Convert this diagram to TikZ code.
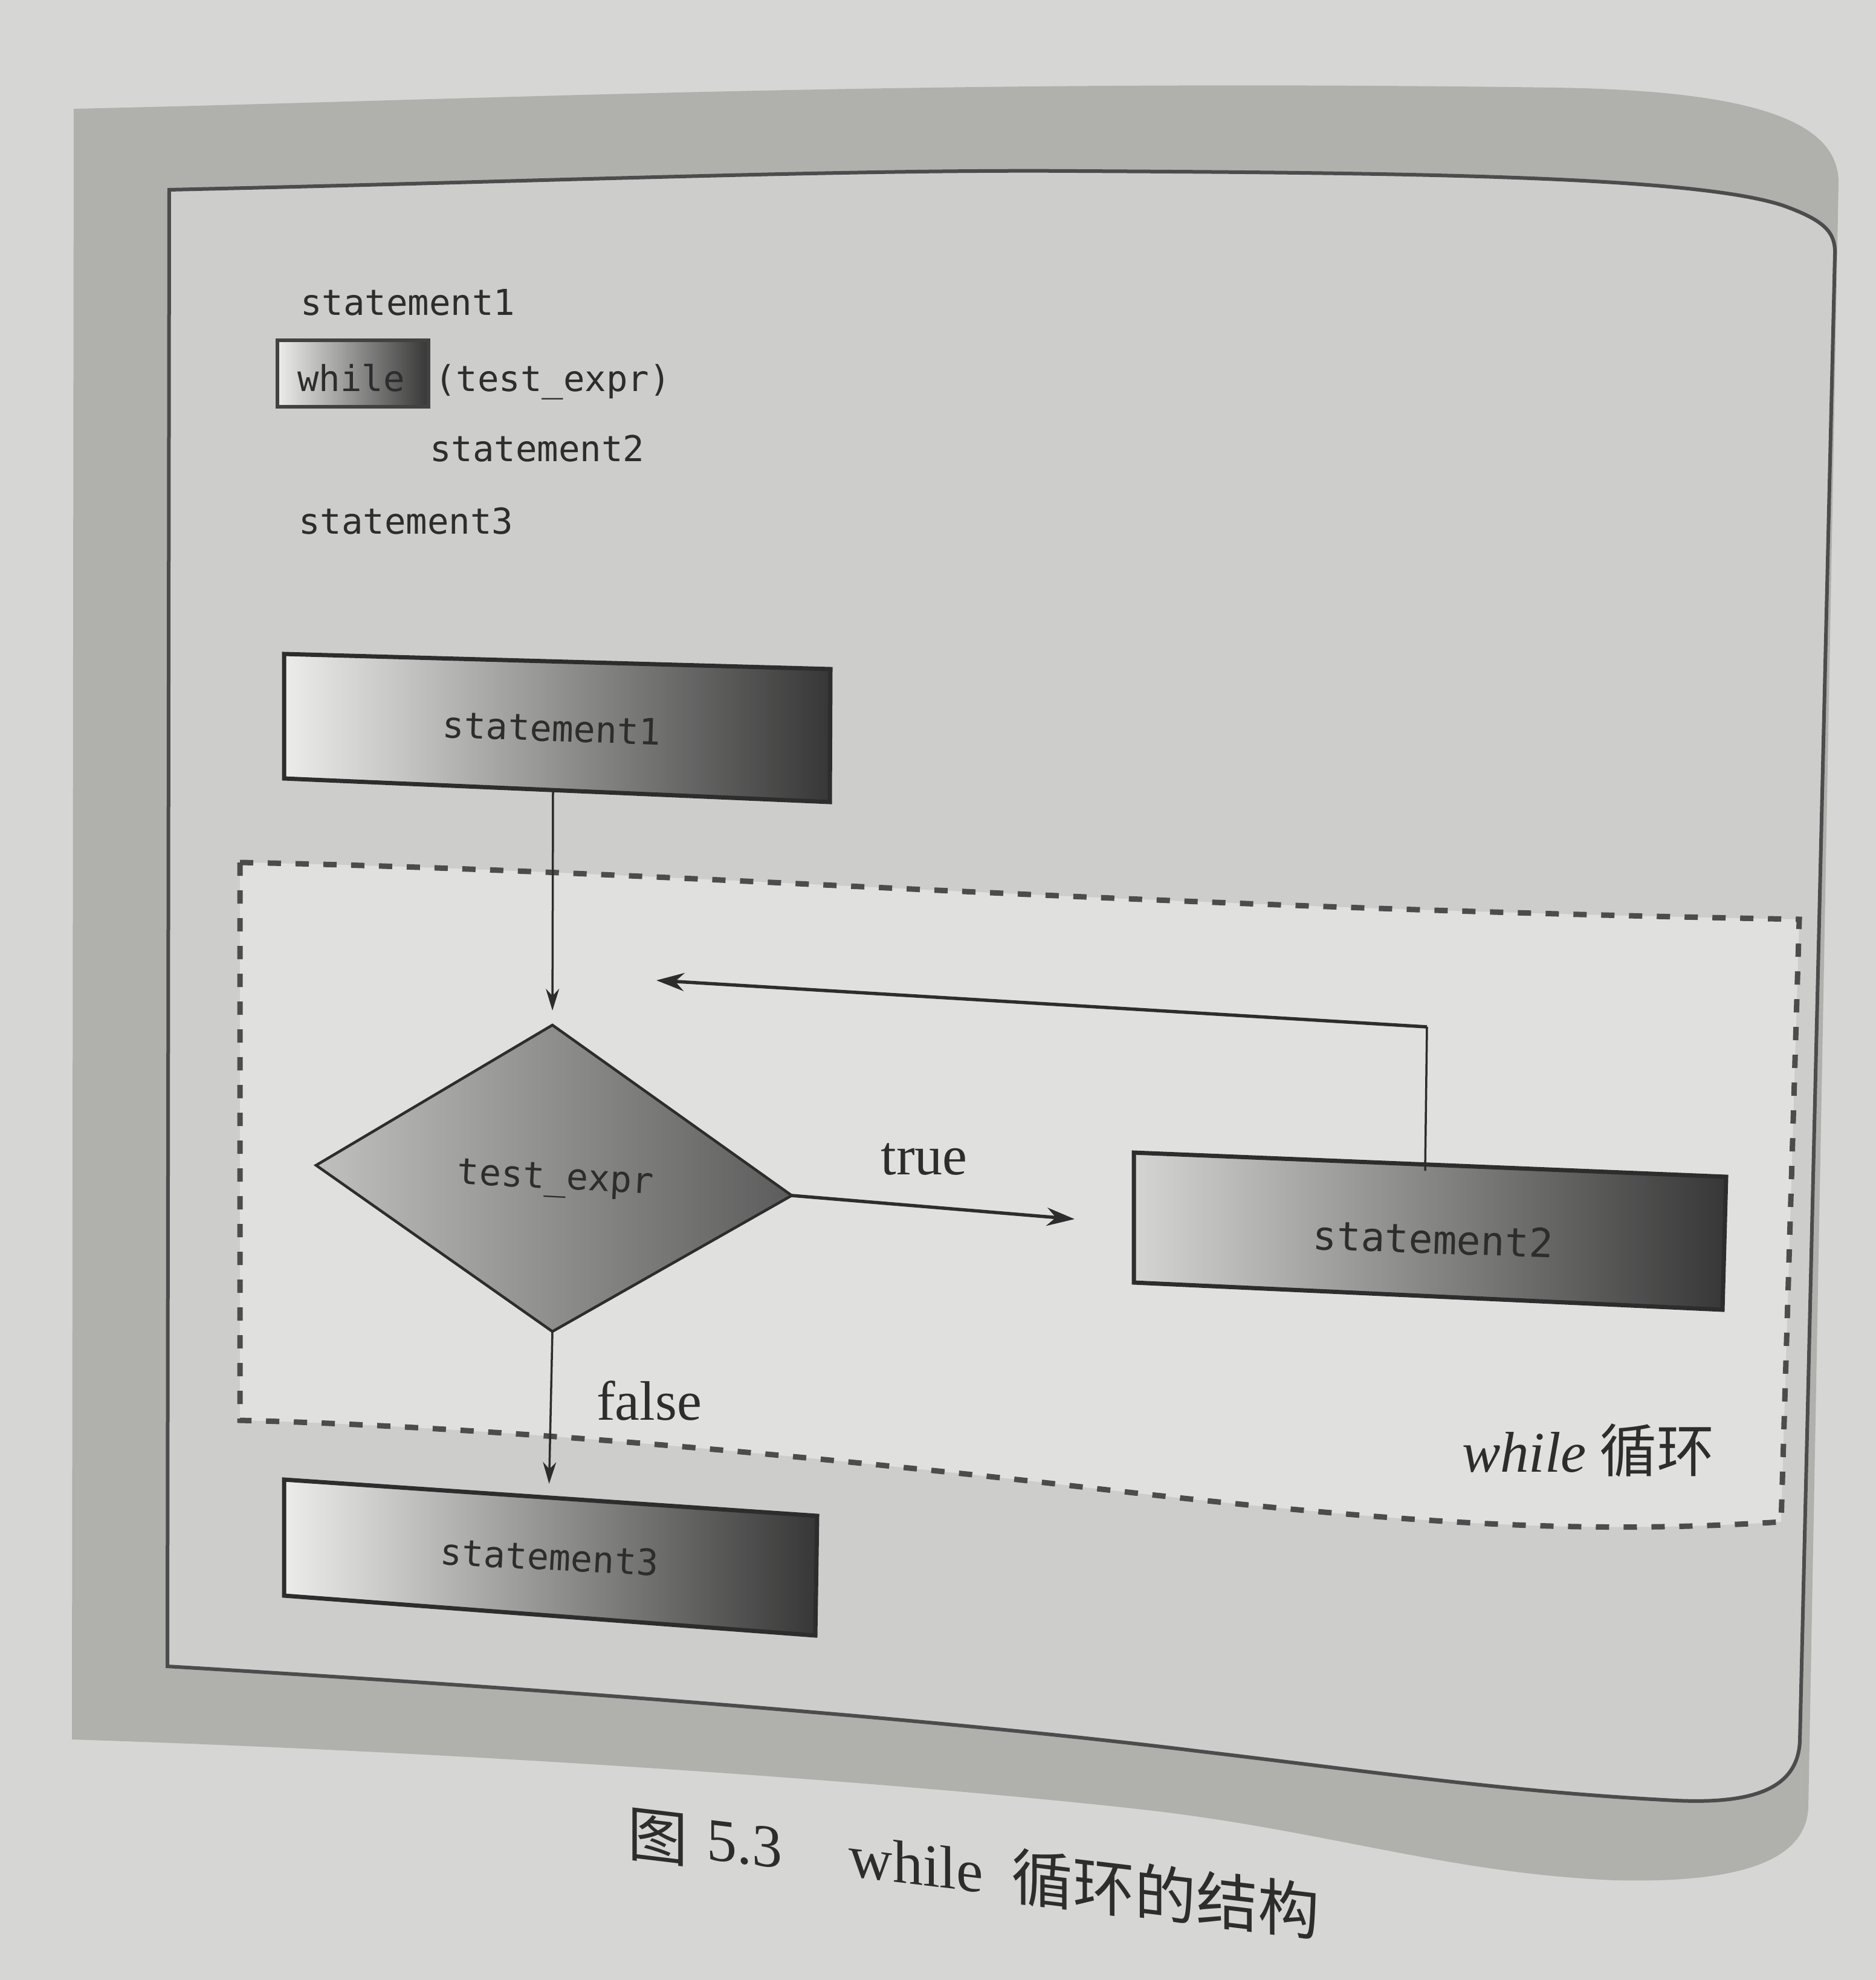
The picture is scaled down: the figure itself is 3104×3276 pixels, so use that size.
\documentclass[tikz,border=0pt]{standalone}
\usepackage{fontspec}
\setmainfont{Liberation Serif}
\newfontfamily\codefont{DejaVu Sans Mono}
\newfontfamily\cjkfont{Noto Sans CJK SC}
\usetikzlibrary{arrows.meta}
\definecolor{pagebg}{RGB}{214,215,212}
\definecolor{framegray}{RGB}{176,176,173}
\definecolor{panelgray}{RGB}{205,206,203}
\definecolor{loopbg}{RGB}{224,225,222}
\definecolor{inkdark}{RGB}{45,45,45}
\definecolor{boxlight}{RGB}{236,236,234}
\definecolor{boxdark}{RGB}{55,55,55}
\definecolor{dialight}{RGB}{192,192,190}
\definecolor{diadark}{RGB}{92,92,92}
\begin{document}
\begin{tikzpicture}[x=1pt,y=-1pt,
  codetext/.style={font=\codefont\fontsize{59}{70}\selectfont, text=inkdark, inner sep=0pt},
  boxtext/.style={font=\codefont\fontsize{60}{72}\selectfont, text=inkdark, inner sep=0pt},
  lbltext/.style={font=\fontsize{92}{110}\selectfont, text=inkdark, inner sep=0pt},
  captext/.style={font=\fontsize{100}{118}\selectfont, text=inkdark, inner sep=0pt, yslant=-0.12, transform shape},
  conn/.style={draw=inkdark, line width=3.5pt},
  thickconn/.style={draw=inkdark, line width=5.5pt},
  boxedge/.style={draw=inkdark, line width=7pt, line join=miter},
  smalltip/.style={-{Stealth[length=36pt,width=22pt]}},
  bigtip/.style={-{Stealth[length=46pt,width=30pt]}},
  loopedge/.style={draw=inkdark!85, line width=9pt, dash pattern=on 22pt off 24pt}
]
\useasboundingbox (0,0) rectangle (3104,3276);
\fill[pagebg] (0,0) rectangle (3104,3276);

% outer gray frame
\fill[framegray] (122,180) .. controls (800,165) and (1500,130) .. (2574,145)
  .. controls (2900,150) and (3040,200) .. (3042,300)
  -- (2992,2990) .. controls (2988,3090) and (2850,3115) .. (2673,3111)
  .. controls (2400,3100) and (2200,3030) .. (1900,2995)
  .. controls (1500,2950) and (800,2900) .. (119,2878) -- cycle;

% inner panel
\filldraw[fill=panelgray, draw=inkdark!85, line width=6pt]
  (280,314) .. controls (900,300) and (1400,280) .. (1782,283)
  .. controls (2300,286) and (2800,290) .. (2950,340)
  .. controls (3020,365) and (3037,385) .. (3036,420)
  -- (2978,2880) .. controls (2975,2960) and (2900,2985) .. (2772,2979)
  .. controls (2500,2965) and (2300,2935) .. (1980,2897)
  .. controls (1600,2850) and (1000,2800) .. (277,2757) -- cycle;

% code listing
\shadedraw[left color=boxlight, right color=boxdark, draw=inkdark!90, line width=6pt]
  (459,563) rectangle (709,673);
\node[codetext, anchor=base west] (c1) at (497,521) {statement1};
\node[codetext, anchor=base west] (c2a) at (492,647) {while};
\node[codetext, anchor=base west] (c2b) at (719,647) {(test\_expr)};
\node[codetext, anchor=base west] (c3) at (711,763) {statement2};
\node[codetext, anchor=base west] (c4) at (494,883) {statement3};

% while loop region
\path[fill=loopbg] (397,1427) .. controls (1100,1440) and (1800,1500) .. (2977,1521)
  -- (2947,2518) .. controls (2600,2540) and (2300,2520) .. (1728,2453)
  .. controls (1300,2405) and (800,2360) .. (397,2350) -- cycle;
\draw[loopedge] (397,1427) .. controls (1100,1440) and (1800,1500) .. (2977,1521)
  -- (2947,2518) .. controls (2600,2540) and (2300,2520) .. (1728,2453)
  .. controls (1300,2405) and (800,2360) .. (397,2350) -- cycle;
\node[font=\fontsize{95}{110}\selectfont, text=inkdark, inner sep=0pt] (looplbl) at (2628,2400)
  {\textit{while}\hspace{22pt}{\cjkfont 循环}};

% statement1 box
\shadedraw[left color=boxlight, right color=boxdark, boxedge]
  (470,1082) -- (1374,1107) -- (1373,1327) -- (470,1288) -- cycle;
\node[boxtext, rotate=-2] (s1) at (913,1205) {statement1};
\coordinate (s1b) at (915,1309);

% decision diamond
\coordinate (dT) at (914,1696);
\coordinate (dR) at (1310,1978);
\coordinate (dB) at (914,2203);
\coordinate (dL) at (523,1928);
\shadedraw[left color=dialight, right color=diadark, draw=inkdark, line width=4.5pt, line join=miter]
  (dT) -- (dR) -- (dB) -- (dL) -- cycle;
\node[boxtext, rotate=-3] (d) at (919,1953) {test\_expr};

% statement2 box
\shadedraw[left color=boxlight!90!black, right color=boxdark, boxedge]
  (1876,1907) -- (2856,1947) -- (2850,2167) -- (1876,2122) -- cycle;
\node[font=\codefont\fontsize{66}{78}\selectfont, text=inkdark, inner sep=0pt, rotate=-2] (s2) at (2371,2050) {statement2};
\coordinate (s2t) at (2358,1937);
\coordinate (fbc) at (2361,1699);
\coordinate (fbtip) at (1086,1622);
\coordinate (truetip) at (1778,2017);

% statement3 box
\shadedraw[left color=boxlight, right color=boxdark, boxedge]
  (470,2448) -- (1352,2508) -- (1349,2706) -- (470,2640) -- cycle;
\node[boxtext, rotate=-3] (s3) at (909,2576) {statement3};
\coordinate (s3t) at (908,2480);

% connectors
\draw[conn, smalltip, shorten >=24pt] (s1b) -- (dT);
\draw[thickconn, bigtip] (dR) -- (truetip);
\node[lbltext] (truelbl) at (1529,1918) {true};
\draw[conn] (s2t) -- (fbc);
\draw[thickconn, bigtip] (fbc) -- (fbtip);
\draw[conn, smalltip, shorten >=25pt] (dB) -- (s3t);
\node[lbltext] (falselbl) at (1074,2318) {false};

% caption
\node[captext, font=\cjkfont\fontsize{100}{118}\selectfont] (capfig) at (1088,3040) {图};
\node[captext] (capnum) at (1232,3052) {5.3};
\node[captext] (capwhile) at (1516,3084) {while};
\node[captext, font=\cjkfont\fontsize{102}{118}\selectfont] (captitle) at (1928,3134) {循环的结构};
\end{tikzpicture}
\end{document}
